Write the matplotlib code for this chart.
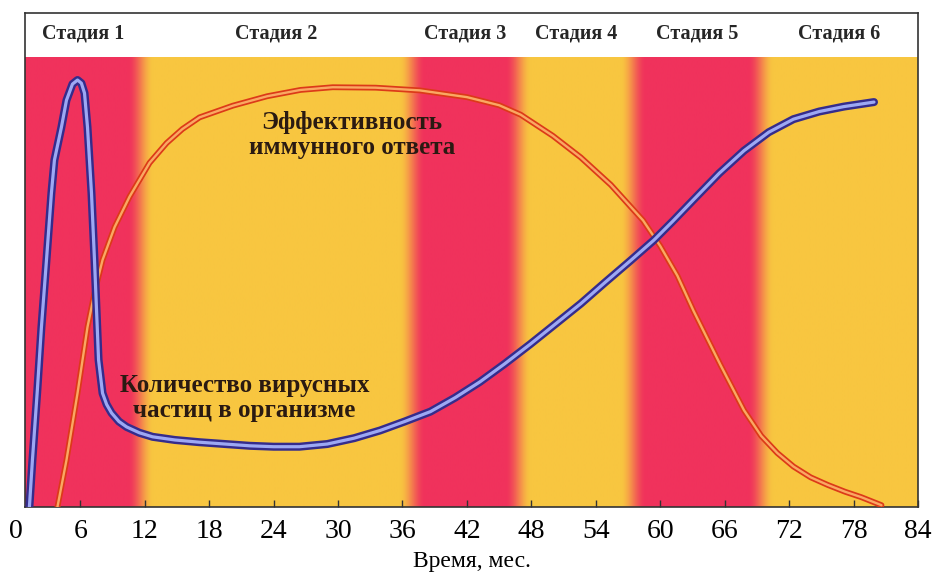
import numpy as np
import matplotlib
matplotlib.use('Agg')
import matplotlib.pyplot as plt

# Данные
months_virus = [1.26, 1.54, 2.0, 2.38, 2.85, 3.31, 3.59, 4.24, 4.71, 5.27, 5.74, 6.1, 6.39,
                6.67, 7.04, 7.32, 7.51, 7.7, 8.07, 8.45, 8.91, 9.6, 10.31, 11.5, 12.73, 14.8,
                17.1, 21.8, 24.0, 26.4, 29.0, 31.5, 33.9, 36.2, 38.6, 40.9, 43.2, 45.5, 47.9,
                50.2, 52.6, 54.9, 57.2, 59.4, 61.2, 63.1, 65.5, 67.8, 70.1, 72.4, 74.8, 77.1,
                79.9]
virus = [0.0, 0.104, 0.26, 0.4, 0.549, 0.698, 0.771, 0.844, 0.904, 0.94, 0.949, 0.942, 0.92,
         0.844, 0.698, 0.549, 0.438, 0.327, 0.253, 0.228, 0.209, 0.19, 0.178, 0.165, 0.156,
         0.149, 0.144, 0.136, 0.134, 0.134, 0.14, 0.153, 0.17, 0.19, 0.212, 0.243, 0.278,
         0.318, 0.362, 0.406, 0.452, 0.5, 0.547, 0.593, 0.636, 0.683, 0.742, 0.792, 0.833,
         0.862, 0.879, 0.89, 0.9]

months_immune = [3.87, 4.71, 5.74, 6.67, 7.32, 8.07, 9.19, 10.59, 12.45, 14.04, 15.5, 17.1,
                 20.2, 23.4, 26.5, 29.5, 33.5, 37.6, 42.0, 45.0, 47.0, 50.0, 52.6, 55.4,
                 58.4, 60.0, 61.6, 63.1, 65.6, 67.8, 69.4, 70.9, 72.4, 74.0, 75.6, 77.2,
                 78.7, 80.6]
immune = [0.0, 0.104, 0.253, 0.4, 0.476, 0.549, 0.622, 0.69, 0.765, 0.809, 0.84, 0.866,
          0.892, 0.913, 0.927, 0.933, 0.932, 0.926, 0.911, 0.893, 0.872, 0.825, 0.777, 0.716,
          0.637, 0.58, 0.514, 0.436, 0.316, 0.215, 0.158, 0.12, 0.09, 0.066, 0.049, 0.034,
          0.022, 0.004]

stage_names = ['Стадия 1', 'Стадия 2', 'Стадия 3', 'Стадия 4', 'Стадия 5', 'Стадия 6']
stage_edges = [0.85, 11.6, 36.9, 46.8, 57.5, 69.4, 84]
xticks = list(range(6, 85, 6))

RED = np.array([240, 50, 92]) / 255
YELLOW = np.array([248, 198, 64]) / 255
SERIF = 'Liberation Serif'
TICK_PAD = 9

fig = plt.figure(figsize=(9.33, 5.76), dpi=100)
ax = fig.add_axes([25 / 933, 69 / 576, 893 / 933, 494 / 576])

x0, x1 = stage_edges[0], stage_edges[-1]
ax.set_xlim(x0, x1)
ax.set_ylim(0, 1.098)

# фон: чередующиеся красные и жёлтые полосы с плавным переходом
xs = np.linspace(x0, x1, 1200)
phase = np.zeros_like(xs)
for e in stage_edges[1:-1]:
    t = np.clip((xs - e) / 2.4 + 0.5, 0, 1)
    phase += t * t * (3 - 2 * t)
red_w = np.abs(1 - np.mod(phase, 2))
img = red_w[:, None] * RED + (1 - red_w[:, None]) * YELLOW
ax.imshow(img[None, :, :], extent=[x0, x1, 0, 1.0], aspect='auto',
          interpolation='bilinear', zorder=0)

# подписи стадий
for i, name in enumerate(stage_names):
    cx = (stage_edges[i] + stage_edges[i + 1]) / 2
    ax.text(cx, 1.052, name, ha='center', va='center', fontsize=14.5,
            family=SERIF, fontweight='bold', color='#262626')

# кривые (двойная линия: контур + светлая середина)
line_kw = dict(solid_capstyle='round', solid_joinstyle='round')
ax.plot(months_immune, immune, color='#DC3A18', lw=4.2, zorder=3, **line_kw)
ax.plot(months_immune, immune, color='#FAA862', lw=1.7, zorder=3, **line_kw)
ax.plot(months_virus, virus, color='#352C8C', lw=5.8, zorder=4, **line_kw)
ax.plot(months_virus, virus, color='#9DA8F4', lw=2.3, zorder=4, **line_kw)

ax.text(31.3, 0.827, 'Эффективность\nиммунного ответа', ha='center', va='center',
        fontsize=18, family=SERIF, fontweight='bold', color='#2A1A12', linespacing=1.12)
ax.text(21.3, 0.242, 'Количество вирусных\nчастиц в организме', ha='center', va='center',
        fontsize=18, family=SERIF, fontweight='bold', color='#2A1A12', linespacing=1.12)

# оси
ax.set_xticks(xticks)
ax.set_xticklabels([str(t) for t in xticks], family=SERIF, fontsize=20)
ax.tick_params(axis='x', direction='in', length=5, width=1.0, pad=TICK_PAD, color='#333333')
ax.set_yticks([])
ax.annotate('0', xy=(0, 0), xycoords=('data', 'axes fraction'), xytext=(0, -TICK_PAD),
            textcoords='offset points', ha='center', va='top', family=SERIF,
            fontsize=20, annotation_clip=False)
ax.set_xlabel('Время, мес.', family=SERIF, fontsize=17, labelpad=5)
for s in ax.spines.values():
    s.set_color('#333333')
    s.set_linewidth(1.2)

fig.savefig('out.png', dpi=100)
